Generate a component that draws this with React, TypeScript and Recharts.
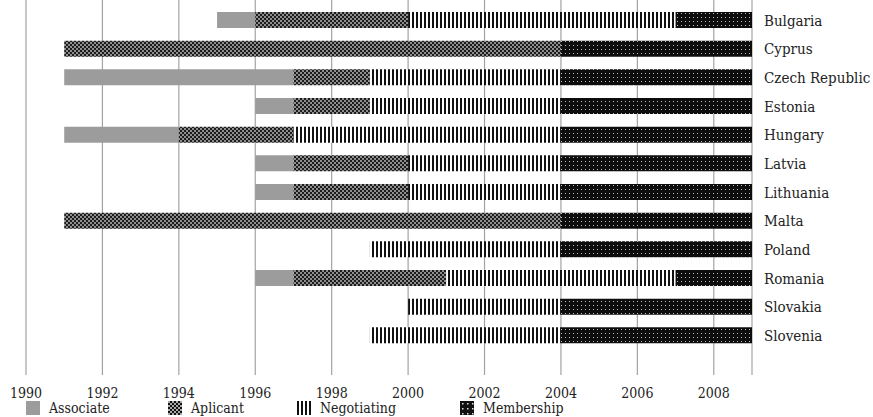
import React from "react";
import { BarChart, Bar, XAxis, YAxis, CartesianGrid, Legend } from "recharts";

const BASE_YEAR = 1990;
const END_YEAR = 2009;

const countries = [
  "Bulgaria",
  "Cyprus",
  "Czech Republic",
  "Estonia",
  "Hungary",
  "Latvia",
  "Lithuania",
  "Malta",
  "Poland",
  "Romania",
  "Slovakia",
  "Slovenia",
];

// year each phase starts (null = phase not shown)
const associateFrom = [1995, null, 1991, 1996, 1991, 1996, 1996, null, null, 1996, null, null];
const applicantFrom = [1996, 1991, 1997, 1997, 1994, 1997, 1997, 1991, null, 1997, null, null];
const negotiatingFrom = [2000, null, 1999, 1999, 1997, 2000, 2000, null, 1999, 2001, 2000, 1999];
const membershipFrom = [2007, 2004, 2004, 2004, 2004, 2004, 2004, 2004, 2004, 2007, 2004, 2004];

const yearTicks = [1990, 1992, 1994, 1996, 1998, 2000, 2002, 2004, 2006, 2008];

const series = [
  { key: "associate", name: "Associate", fill: "#9c9c9c" },
  { key: "applicant", name: "Aplicant", fill: "url(#pat-applicant)" },
  { key: "negotiating", name: "Negotiating", fill: "url(#pat-negotiating)" },
  { key: "membership", name: "Membership", fill: "url(#pat-membership)" },
];

const data = countries.map((country, i) => {
  const starts = [associateFrom[i], applicantFrom[i], negotiatingFrom[i], membershipFrom[i]];
  const first = starts.find((s) => s !== null) as number;
  const row: Record<string, any> = { country, offset: first - BASE_YEAR };
  starts.forEach((s, k) => {
    if (s === null) {
      row[series[k].key] = 0;
      return;
    }
    const next = starts.slice(k + 1).find((n) => n !== null);
    row[series[k].key] = (next ?? END_YEAR) - s;
  });
  return row;
});

const FONT = "'DejaVu Serif Condensed', 'DejaVu Serif', serif";

const Patterns = () => (
  <svg width={0} height={0} style={{ position: "absolute" }}>
    <defs>
      <pattern id="pat-applicant" width={4} height={4} patternUnits="userSpaceOnUse">
        <rect width={4} height={4} fill="#1c1c1c" />
        <rect x={0} y={0} width={2} height={2} fill="#8e8e8e" />
        <rect x={2} y={2} width={2} height={2} fill="#8e8e8e" />
      </pattern>
      <pattern id="pat-negotiating" width={4} height={4} patternUnits="userSpaceOnUse">
        <rect width={4} height={4} fill="#ffffff" />
        <rect x={0} y={0} width={2} height={4} fill="#111" />
      </pattern>
      <pattern id="pat-membership" width={4} height={4} patternUnits="userSpaceOnUse">
        <rect width={4} height={4} fill="#0d0d0d" />
        <rect x={1} y={1} width={1} height={1} fill="#bdbdbd" />
      </pattern>
      <pattern id="pat-applicant-big" width={4} height={4} patternUnits="userSpaceOnUse">
        <rect width={4} height={4} fill="#111" />
        <rect x={0} y={0} width={2} height={2} fill="#aaa" />
        <rect x={2} y={2} width={2} height={2} fill="#aaa" />
      </pattern>
      <pattern id="pat-membership-big" width={5} height={5} patternUnits="userSpaceOnUse">
        <rect width={5} height={5} fill="#111" />
        <rect x={2} y={2} width={1.5} height={1.5} fill="#ddd" />
      </pattern>
    </defs>
  </svg>
);

const legendWidths = [142, 129, 163, 140];
const legendFills = ["#9c9c9c", "url(#pat-applicant-big)", "url(#pat-negotiating)", "url(#pat-membership-big)"];

const LegendContent = () => (
  <div style={{ display: "flex", paddingLeft: 26, height: 24, alignItems: "flex-end" }}>
    {series.map((s, i) => (
      <div key={s.key} style={{ width: legendWidths[i], display: "flex", alignItems: "center" }}>
        <svg width={14} height={14} style={{ marginRight: 9 }}>
          <rect width={14} height={14} fill={legendFills[i]} />
        </svg>
        <span style={{ fontFamily: FONT, fontSize: 14, color: "#222", lineHeight: "14px" }}>{s.name}</span>
      </div>
    ))}
  </div>
);

export default function App() {
  return (
    <div style={{ position: "absolute", left: 0, top: 0, width: 873, height: 417, background: "#fff", fontFamily: FONT }}>
      <Patterns />
      <BarChart
        width={873}
        height={417}
        data={data}
        layout="vertical"
        margin={{ top: 0, right: 8, bottom: 3, left: 26 }}
        barSize={16}
        style={{ fontFamily: FONT }}
      >
        <CartesianGrid horizontal={false} stroke="#a3a3a3" strokeWidth={1.2} />
        <XAxis
          type="number"
          domain={[0, END_YEAR - BASE_YEAR]}
          ticks={yearTicks.map((y) => y - BASE_YEAR)}
          tickFormatter={(v: number) => String(v + BASE_YEAR)}
          axisLine={false}
          tickLine={false}
          height={16}
          tickMargin={7}
          tick={{ fontFamily: FONT, fontSize: 14, fill: "#222" }}
        />
        <YAxis
          type="category"
          dataKey="country"
          orientation="right"
          axisLine={false}
          tickLine={false}
          width={113}
          tickMargin={6}
          padding={{ top: 6, bottom: 25 }}
          tick={{ fontFamily: FONT, fontSize: 15, fill: "#222" }}
        />
        <Legend
          verticalAlign="bottom"
          align="left"
          height={23}
          content={<LegendContent />}
          wrapperStyle={{ left: 0, width: 873 }}
        />
        <Bar dataKey="offset" stackId="a" fill="transparent" isAnimationActive={false} legendType="none" />
        {series.map((s) => (
          <Bar
            key={s.key}
            dataKey={s.key}
            name={s.name}
            stackId="a"
            fill={s.fill}
            isAnimationActive={false}
          />
        ))}
      </BarChart>
    </div>
  );
}
